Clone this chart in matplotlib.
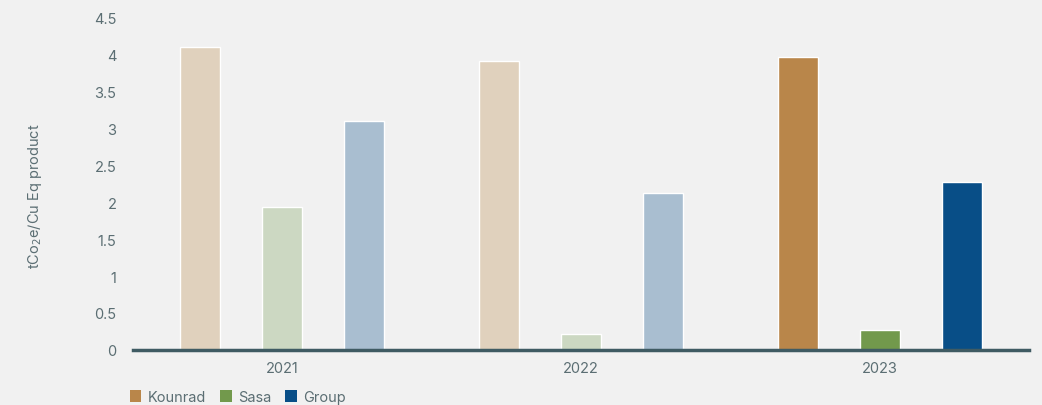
import numpy as np
import matplotlib
matplotlib.use("Agg")
import matplotlib.pyplot as plt
from matplotlib.patches import Patch

years = ["2021", "2022", "2023"]
sites = ["Kounrad", "Sasa", "Group"]
kounrad = [4.09, 3.91, 3.96]
sasa = [1.93, 0.22, 0.27]
group = [3.09, 2.12, 2.27]

# full colours for the current year, washed-out ones for earlier years
full_cols = ["#b9864a", "#72994c", "#084e87"]
pale_cols = ["#e0d1bd", "#ccd8c2", "#a9bed0"]

plt.rcParams["font.family"] = ["Inter", "DejaVu Sans"]
bg = "#f1f1f1"
txt = "#5b6e73"

fig = plt.figure(figsize=(10.42, 4.06), dpi=100, facecolor=bg)
ax = fig.add_axes([0.1276, 0.1355, 0.86, 0.82])
ax.set_facecolor(bg)

x = np.arange(len(years))
w = 0.134
off = 0.274
for i, vals in enumerate([kounrad, sasa, group]):
    cols = [pale_cols[i]] * (len(years) - 1) + [full_cols[i]]
    ax.bar(x + (i - 1) * off, vals, width=w, color=cols,
           edgecolor="white", linewidth=1, zorder=2)

ax.set_xlim(-0.5, 2.5)
ax.set_ylim(0, 4.5)
ax.set_xticks(x)
ax.set_xticklabels(years)
yt = np.arange(0, 4.51, 0.5)
ax.set_yticks(yt)
ax.set_yticklabels([f"{v:g}" for v in yt])
ax.tick_params(length=0, labelsize=10.5, colors=txt)
ax.tick_params(axis="y", pad=12)
ax.tick_params(axis="x", pad=8)
for s in ["top", "right", "left"]:
    ax.spines[s].set_visible(False)
ax.spines["bottom"].set_color("#3f5b63")
ax.spines["bottom"].set_linewidth(2.5)
ax.spines["bottom"].set_zorder(3)

fig.text(0.034, 0.517, "tCo$_2$e/Cu Eq product", color=txt, fontsize=10.5,
         rotation=90, ha="center", va="center")

handles = [Patch(facecolor=c, edgecolor="none") for c in full_cols]
fig.legend(handles, sites, loc="lower left", bbox_to_anchor=(0.112, -0.03),
           ncol=3, frameon=False, fontsize=10.5, labelcolor=txt,
           handlelength=0.8, handleheight=0.8, handletextpad=0.4,
           columnspacing=1.0)

fig.savefig("out.png", dpi=100, facecolor=bg)
